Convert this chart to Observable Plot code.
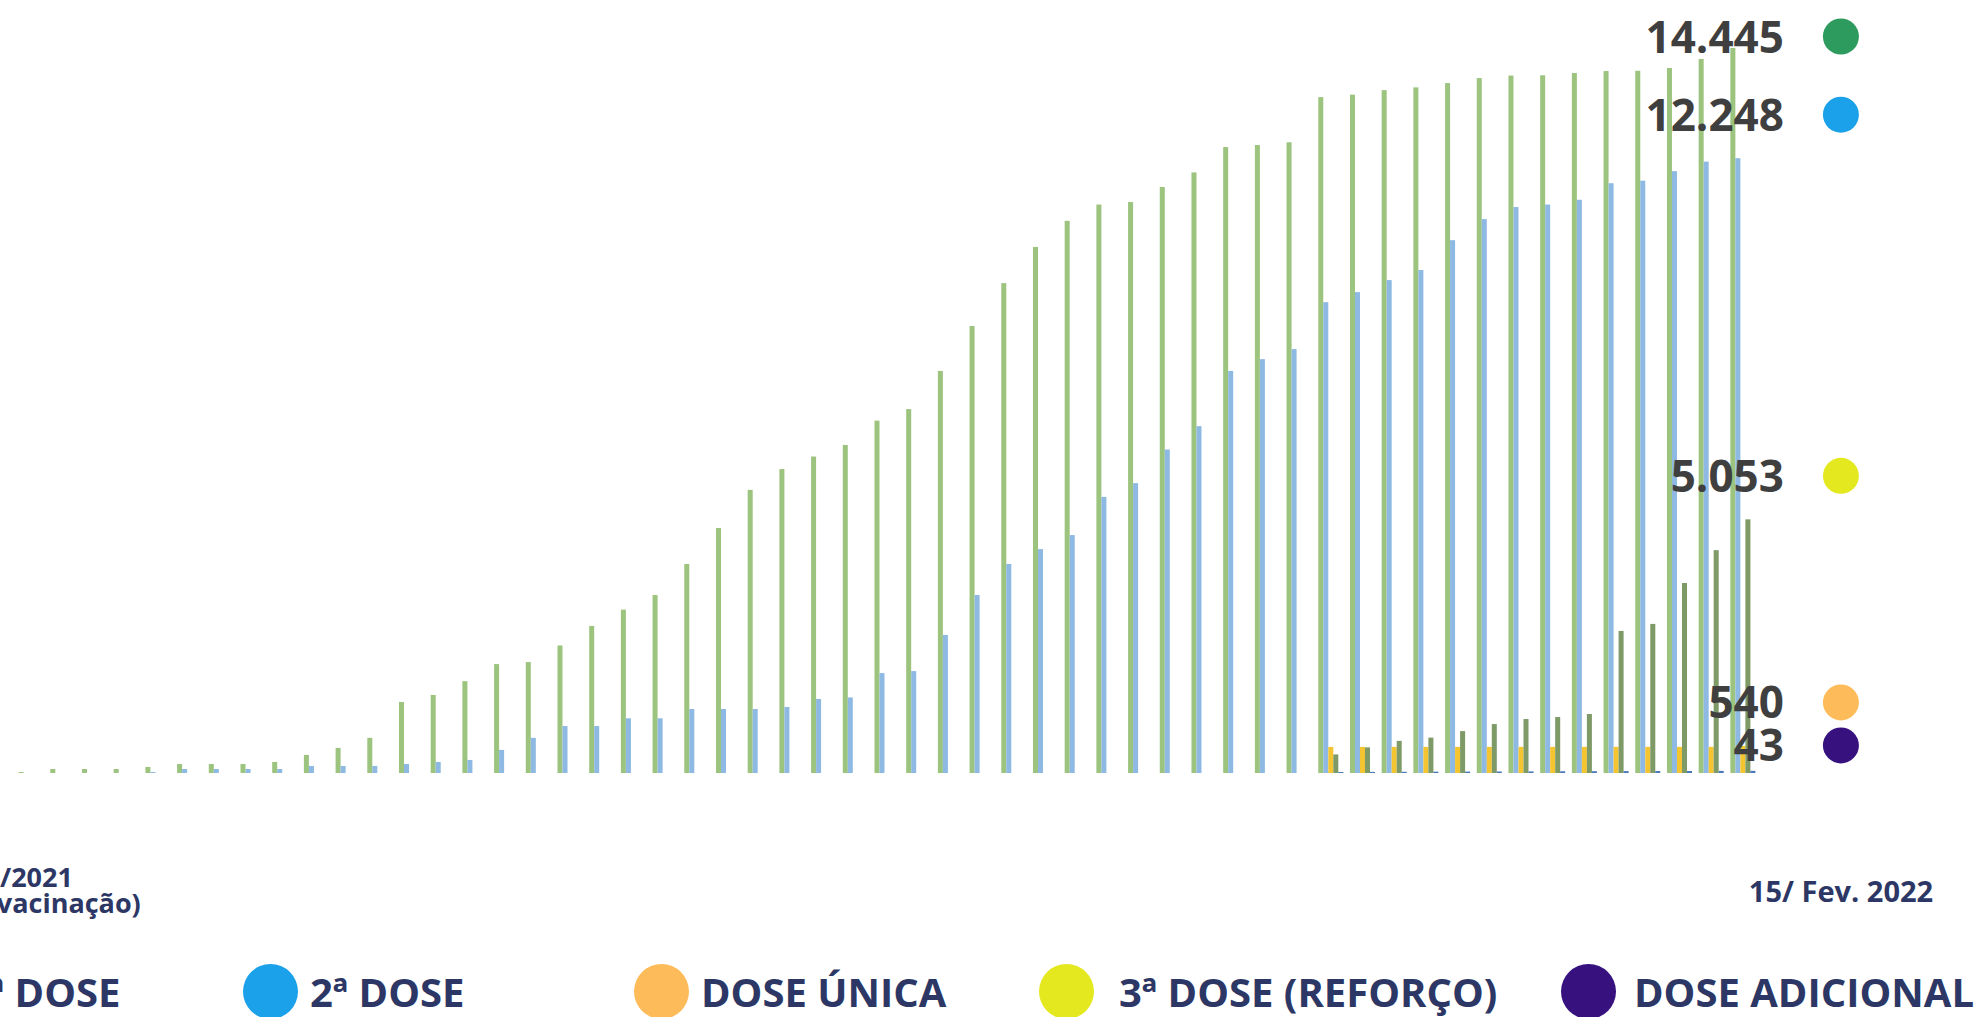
<!DOCTYPE html>
<html>
<head>
<meta charset="utf-8">
<script src="https://cdn.jsdelivr.net/npm/d3@7"></script>
<script src="https://cdn.jsdelivr.net/npm/@observablehq/plot@0.6"></script>
<style>
html, body { margin: 0; padding: 0; background: #fff; }
#page { position: relative; width: 1976px; height: 1017px; overflow: hidden; font-family: "Open Sans", sans-serif; }
#chart { position: absolute; left: 0; top: 0; }
.note { position: absolute; font-weight: 700; color: #2c3765; text-align: center; white-space: nowrap; transform: translateX(-50%); }
.ldot { position: absolute; width: 55px; height: 55px; border-radius: 50%; top: 964px; }
.ltxt { position: absolute; font-size: 40px; line-height: 40px; font-weight: 700; color: #2c3765; white-space: nowrap; top: 971.5px; }
</style>
</head>
<body>
<div id="page">
  <div id="chart"></div>
</div>
<script>
// ---- data (milhares de doses, acumulado por semana) ----
const weeks = d3.range(1, 56).map(i => "S" + i);

const dose1 = [20, 80, 80, 80, 120, 180, 180, 180, 220, 360,
  500, 700, 1415, 1555, 1830, 2170, 2210, 2540, 2930, 3255,
  3545, 4165, 4880, 5640, 6055, 6305, 6535, 7020, 7250, 8010,
  8905, 9760, 10480, 11000, 11325, 11375, 11675, 11965, 12470, 12510,
  12565, 13465, 13515, 13605, 13660, 13745, 13845, 13895, 13900, 13945,
  13985, 13990, 14045, 14225, 14445];

const dose2 = [0, 0, 0, 0, 20, 80, 80, 80, 80, 140,
  140, 140, 180, 220, 260, 460, 700, 935, 935, 1090,
  1090, 1275, 1275, 1275, 1315, 1475, 1505, 1990, 2030, 2750,
  3545, 4165, 4460, 4740, 5500, 5775, 6445, 6910, 8010, 8245,
  8445, 9380, 9580, 9820, 10020, 10615, 11035, 11275, 11325, 11420,
  11750, 11800, 11990, 12180, 12248];

const zeros41 = new Array(41).fill(0);
const doseUnica = zeros41.concat([520, 520, 520, 520, 520, 520, 520, 520, 520, 520, 520, 520, 520, 540]);
const dose3 = zeros41.concat([370, 510, 640, 705, 835, 975, 1075, 1115, 1175, 2830, 2970, 3785, 4440, 5053]);
const doseAdicional = zeros41.concat([20, 22, 24, 26, 28, 30, 32, 34, 36, 38, 39, 40, 42, 43]);

const seriesNames = ["1ª DOSE", "2ª DOSE", "DOSE ÚNICA", "3ª DOSE (REFORÇO)", "DOSE ADICIONAL"];
const seriesValues = [dose1, dose2, doseUnica, dose3, doseAdicional];

const noteStart = ["18/01/2021", "(início da vacinação)"];
const noteEnd = "15/ Fev. 2022";

// ---- styles ----
const barColors = ["#9cc47e", "#8db9e2", "#f5c431", "#7d9a67", "#4a78b8"];
const dotColors = ["#2e9b5e", "#1ba1e9", "#fdbc59", "#e4e81f", "#37127e"];

// ---- layout ----
const W = 1976, H = 800, mt = 0, mb = 27, ml = 18.6, mr = 220.6;
const padInner = 0.21;
const step = (W - ml - mr) / (weeks.length - padInner);
const band = step * (1 - padInner);
const bw = band / seriesValues.length;
const yMax = 15400;

const ptBR = d3.formatLocale({decimal: ",", thousands: ".", grouping: [3], currency: ["R$", ""]});
const fmt = ptBR.format(",d");

// end-of-series labels, placed 42px above each final value without colliding
const yPix = d3.scaleLinear().domain([0, yMax]).range([H - mb, mt]);
let prev = -Infinity;
const labels = d3.range(seriesValues.length)
  .map(j => ({j, v: seriesValues[j][seriesValues[j].length - 1]}))
  .sort((a, b) => b.v - a.v)
  .map(d => {
    const py = Math.max(yPix(d.v) - 42, 38, prev + 43);
    prev = py;
    return {text: fmt(d.v), pos: yPix.invert(py), color: dotColors[d.j]};
  });

const marks = seriesValues.map((vals, j) =>
  Plot.barY(
    weeks.map((w, i) => ({w, v: vals[i]})).filter(d => d.v > 0),
    {x: "w", y: "v", fill: barColors[j], insetLeft: j * bw, insetRight: band - (j + 1) * bw}
  )
);

marks.push(
  Plot.text(labels, {
    frameAnchor: "right", y: "pos", text: "text", textAnchor: "end", lineAnchor: "middle",
    dx: 28, fontSize: 44, fontWeight: 700, fill: "#3f3f3f", fontFamily: "Open Sans"
  }),
  Plot.dot(labels, {frameAnchor: "right", y: "pos", dx: 85, dy: -2, r: 18, fill: "color", stroke: null})
);

const chart = Plot.plot({
  width: W, height: H,
  marginTop: mt, marginBottom: mb, marginLeft: ml, marginRight: mr,
  x: {type: "band", domain: weeks, paddingInner: padInner, paddingOuter: 0, axis: null},
  y: {domain: [0, yMax], axis: null},
  color: {type: "identity"},
  style: {background: "transparent", fontFamily: "Open Sans", overflow: "visible"},
  marks
});
document.getElementById("chart").appendChild(chart);

// ---- notes below the chart ----
const page = document.getElementById("page");
function note(text, x, top, size, lh) {
  const d = document.createElement("div");
  d.className = "note";
  d.textContent = text;
  d.style.left = x + "px";
  d.style.top = top + "px";
  d.style.fontSize = size + "px";
  d.style.lineHeight = lh + "px";
  d.style.height = lh + "px";
  page.appendChild(d);
}
note(noteStart[0], 0, 863.5, 27, 26);
note(noteStart[1], 4, 889.5, 27, 26);
note(noteEnd, 1841, 876, 29, 29);

// ---- legend ----
const legendDotX = [-74, 270, 661, 1066, 1588];
const legendTxtX = [-34, 310, 701, 1119, 1634];
seriesNames.forEach((name, j) => {
  const c = document.createElement("div");
  c.className = "ldot";
  c.style.left = (legendDotX[j] - 27.5) + "px";
  c.style.background = dotColors[j];
  page.appendChild(c);
  const t = document.createElement("div");
  t.className = "ltxt";
  t.style.left = legendTxtX[j] + "px";
  t.textContent = name;
  page.appendChild(t);
});
</script>
</body>
</html>
